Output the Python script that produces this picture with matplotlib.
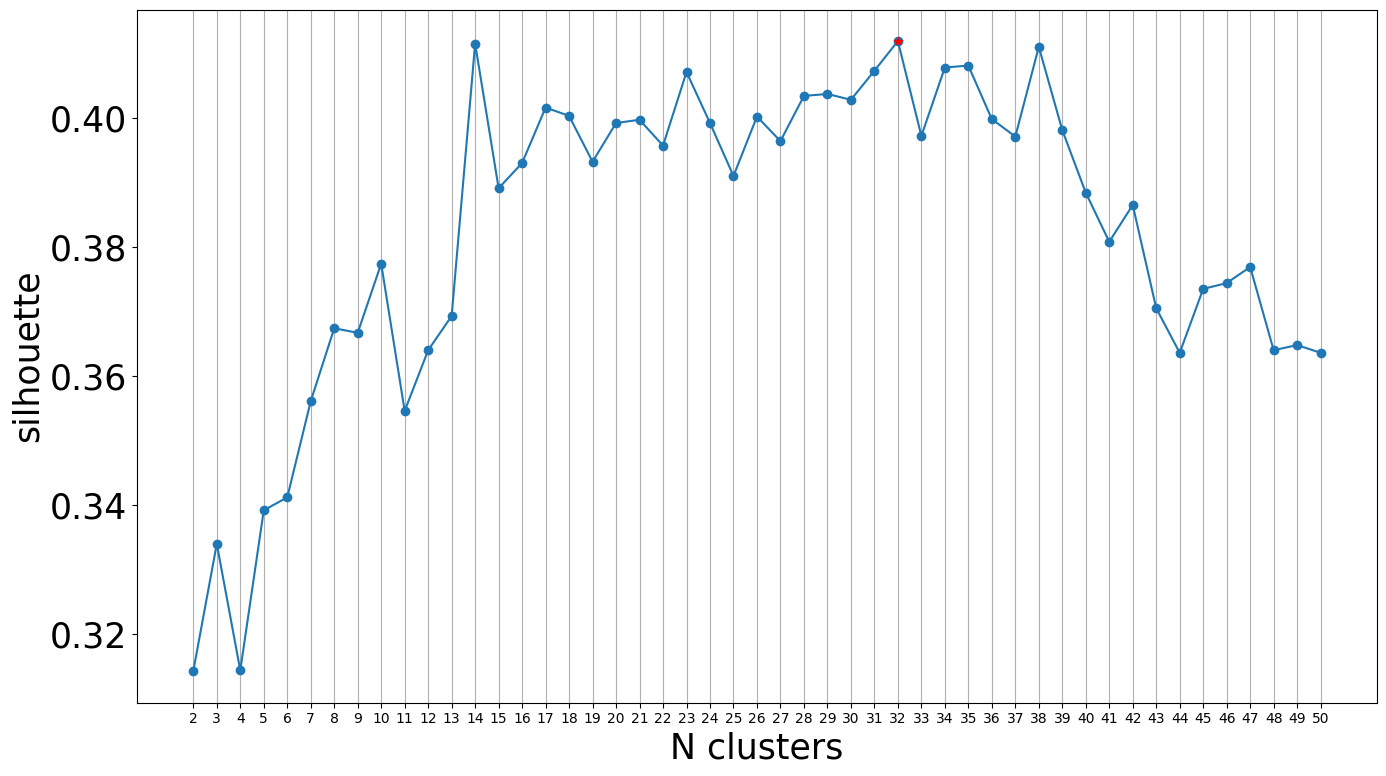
import matplotlib
matplotlib.use("Agg")
import matplotlib.pyplot as plt

n_clusters = list(range(2, 51))
silhouette = [0.3143, 0.3340, 0.3144, 0.3392, 0.3412, 0.3561, 0.3674, 0.3667, 0.3774, 0.3546,
              0.3640, 0.3693, 0.4115, 0.3891, 0.3930, 0.4016, 0.4003, 0.3932, 0.3992, 0.3997,
              0.3957, 0.4071, 0.3992, 0.3910, 0.4002, 0.3964, 0.4034, 0.4037, 0.4028, 0.4073,
              0.4119, 0.3972, 0.4078, 0.4081, 0.3998, 0.3971, 0.4110, 0.3981, 0.3884, 0.3808,
              0.3865, 0.3705, 0.3636, 0.3735, 0.3744, 0.3769, 0.3640, 0.3648, 0.3636]
best_idx = silhouette.index(max(silhouette))

fig = plt.figure(figsize=(13.86, 7.76), dpi=100)
ax = fig.add_axes([0.0988, 0.0947, 0.8947, 0.8930])
ax.plot(n_clusters, silhouette, marker='o', color='#1f77b4')
ax.plot(n_clusters[best_idx], silhouette[best_idx], 'r*')
ax.set_xticks(n_clusters)
ax.grid(axis='x')
ax.tick_params(axis='y', labelsize=25)
ax.tick_params(axis='x', labelsize=10)
ax.set_xlabel('N clusters', fontsize=25)
ax.set_ylabel('silhouette', fontsize=25)
fig.savefig('out.png', dpi=100)
